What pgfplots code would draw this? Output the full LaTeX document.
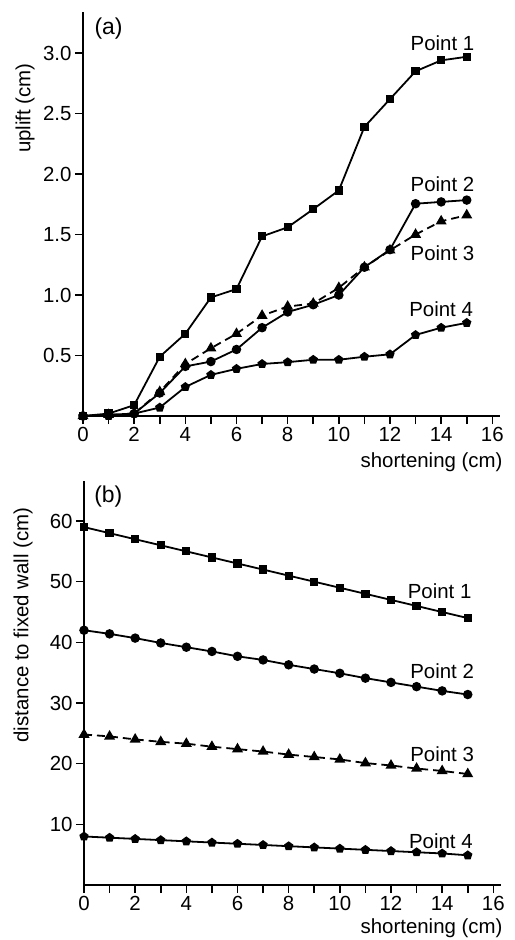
\documentclass[border=0pt]{standalone}
\usepackage{fontspec}
\setmainfont{Liberation Sans}
\usepackage{pgfplots}
\pgfplotsset{compat=1.18}

\pgfplotsset{
  panel/.style={
    scale only axis, width=417bp, height=404bp,
    axis lines*=left,
    axis line style={line width=2.4bp},
    tick style={line width=1.6bp, black},
    major tick length=8bp, minor tick length=8bp,
    tick align=outside,
    xmin=0, xmax=16.3,
    xtick={0,2,...,16}, minor xtick={1,3,...,15},
    tick label style={font=\fontsize{20.5}{22}\selectfont},
    /pgf/number format/assume math mode=true,
    clip=false,
    every axis plot/.append style={line width=1.8bp, black},
  },
  p1/.style={mark=square*, mark size=3.2bp},
  p2/.style={mark=*, mark size=3.8bp},
  p3/.style={mark=triangle*, mark size=4.6bp, dash pattern=on 8bp off 5bp, mark options={solid}},
  p4/.style={mark=pentagon*, mark size=3.8bp},
}
\newcommand{\lab}{\fontsize{20.5}{22}\selectfont}
\newcommand{\panlab}{\fontsize{23}{25}\selectfont}

\begin{document}
\begin{tikzpicture}
\path[use as bounding box] (-83bp,-524bp) rectangle (432bp,416bp);

% (a) uplift
\begin{axis}[panel, at={(0bp,0bp)}, anchor=origin,
  ymin=0, ymax=3.34,
  ytick={0.5,1.0,...,3.0},
  yticklabel style={/pgf/number format/.cd, fixed, fixed zerofill, precision=1},
]
\addplot[p1] coordinates {(0,0)(1,0.02)(2,0.09)(3,0.49)(4,0.68)(5,0.98)(6,1.05)(7,1.485)
  (8,1.56)(9,1.71)(10,1.865)(11,2.39)(12,2.62)(13,2.85)(14,2.94)(15,2.97)};
\addplot[p2] coordinates {(0,0)(1,0.01)(2,0.02)(3,0.19)(4,0.41)(5,0.45)(6,0.55)(7,0.73)
  (8,0.86)(9,0.92)(10,1.0)(11,1.23)(12,1.375)(13,1.755)(14,1.77)(15,1.785)};
\addplot[p3] coordinates {(0,0)(1,0.01)(2,0.02)(3,0.2)(4,0.43)(5,0.56)(6,0.68)(7,0.83)
  (8,0.905)(9,0.93)(10,1.06)(11,1.23)(12,1.37)(13,1.50)(14,1.61)(15,1.66)};
\addplot[p4] coordinates {(0,0)(1,0.0)(2,0.02)(3,0.07)(4,0.24)(5,0.34)(6,0.39)(7,0.43)
  (8,0.445)(9,0.465)(10,0.465)(11,0.49)(12,0.51)(13,0.67)(14,0.73)(15,0.77)};
\node[font=\lab] at (axis cs:14.05,3.08) {Point 1};
\node[font=\lab] at (axis cs:14.05,1.92) {Point 2};
\node[font=\lab] at (axis cs:14.05,1.35) {Point 3};
\node[font=\lab] at (axis cs:14.0,0.88) {Point 4};
\node[font=\panlab] at (axis cs:1.0,3.2) {(a)};
\end{axis}
\node[font=\lab, rotate=90] at (-58bp,308bp) {uplift (cm)};
\node[font=\lab, anchor=east] at (423bp,-46bp) {shortening (cm)};

% (b) distance to fixed wall
\begin{axis}[panel, at={(1bp,-469bp)}, anchor=origin,
  ymin=0, ymax=66.6,
  ytick={10,20,...,60},
]
\addplot[p1] coordinates {(0,59)(1,58)(2,57)(3,56)(4,55)(5,54)(6,53)(7,52)
  (8,51)(9,50)(10,49)(11,48)(12,47)(13,46)(14,45)(15,44)};
\addplot[p2] coordinates {(0,42.0)(1,41.4)(2,40.7)(3,39.9)(4,39.2)(5,38.5)(6,37.7)(7,37.1)
  (8,36.3)(9,35.6)(10,34.9)(11,34.1)(12,33.4)(13,32.7)(14,32.0)(15,31.4)};
\addplot[p3] coordinates {(0,24.8)(1,24.5)(2,24.0)(3,23.6)(4,23.3)(5,22.8)(6,22.4)(7,22.0)
  (8,21.5)(9,21.1)(10,20.7)(11,20.1)(12,19.7)(13,19.2)(14,18.8)(15,18.3)};
\addplot[p4] coordinates {(0,8.0)(1,7.8)(2,7.6)(3,7.4)(4,7.2)(5,7.0)(6,6.8)(7,6.6)
  (8,6.4)(9,6.2)(10,6.0)(11,5.8)(12,5.6)(13,5.4)(14,5.2)(15,4.9)};
\node[font=\lab] at (axis cs:13.9,48.5) {Point 1};
\node[font=\lab] at (axis cs:14.0,35.3) {Point 2};
\node[font=\lab] at (axis cs:14.0,21.5) {Point 3};
\node[font=\lab] at (axis cs:13.95,7.3) {Point 4};
\node[font=\panlab] at (axis cs:0.95,64.1) {(b)};
\end{axis}
\node[font=\lab, rotate=90] at (-60bp,-209bp) {distance to fixed wall (cm)};
\node[font=\lab, anchor=east] at (423bp,-512bp) {shortening (cm)};
\end{tikzpicture}
\end{document}
